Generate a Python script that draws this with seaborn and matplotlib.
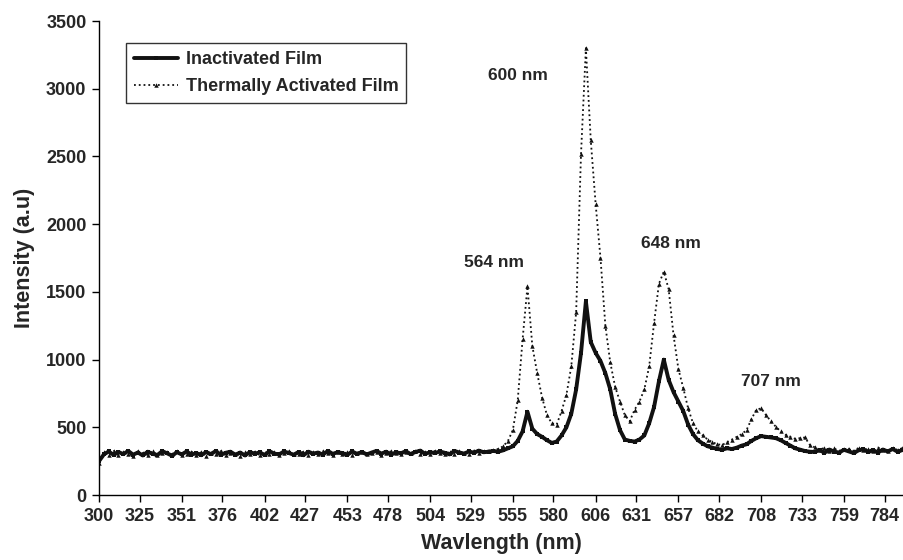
import matplotlib.pyplot as plt
import numpy as np
import pandas as pd
import seaborn as sns

# wavelength grid (3 nm steps, 300 - 795 nm)
wavelength = np.arange(300, 796, 3)

# Inactivated film
inactivated = [
    250, 300, 322, 296, 318, 302, 326, 298, 314, 292,
    320, 304, 296, 324, 308, 290, 316, 300, 322, 298,
    310, 294, 318, 302, 326, 296, 312, 320, 298, 314,
    292, 318, 304, 316, 296, 324, 306, 300, 322, 310,
    298, 318, 294, 320, 306, 314, 298, 326, 304, 316,
    310, 296, 322, 304, 318, 300, 314, 326, 306, 320,
    298, 316, 308, 324, 302, 318, 328, 304, 316, 310,
    322, 312, 300, 326, 314, 306, 322, 312, 328, 316,
    320, 326,
    320, 330, 345, 360, 400, 470, 615, 490, 450, 430,
    405, 385, 395, 440, 500, 600, 780, 1050, 1430, 1130,
    1050, 990, 900, 780, 600, 480, 410, 400, 395, 410,
    440, 530, 650, 840, 1000, 850, 760, 690, 620, 520,
    450, 405, 380, 360, 350, 340, 335, 345, 340, 350,
    365, 375, 400, 420, 435, 430, 425, 420, 405, 385,
    365, 345, 335, 325, 320,
    318, 332, 312, 336, 320, 314, 334, 322, 310, 330,
    338, 318, 330, 314, 336, 322, 340, 320, 332,
]

# Thermally activated film
activated = [
    235, 318, 298, 326, 294, 316, 304, 290, 322, 310,
    296, 326, 292, 312, 318, 300, 324, 292, 306, 320,
    298, 316, 290, 312, 302, 324, 296, 314, 306, 290,
    316, 300, 320, 294, 310, 302, 318, 296, 312, 322,
    300, 306, 320, 296, 316, 302, 322, 308, 298, 318,
    304, 316, 298, 312, 320, 304, 310, 318, 298, 314,
    322, 308, 302, 318, 310, 324, 300, 316, 306, 326,
    310, 302, 320, 306, 322, 312, 304, 328, 314, 322,
    328, 334,
    340, 360, 400, 480, 700, 1150, 1540, 1100, 900, 720,
    590, 530, 520, 620, 740, 950, 1350, 2520, 3300, 2620,
    2150, 1750, 1250, 980, 800, 690, 590, 545, 630, 690,
    780, 950, 1270, 1560, 1650, 1520, 1180, 930, 790, 640,
    530, 470, 440, 410, 390, 375, 370, 390, 410, 430,
    450, 480, 560, 630, 640, 590, 545, 505, 470, 445,
    430, 415, 420, 425, 370,
    352, 336, 348, 328, 344, 324, 338, 342, 326, 348,
    330, 342, 324, 350, 334, 328, 344, 334, 346,
]

tick_labels = ['300', '325', '351', '376', '402', '427', '453', '478', '504', '529',
               '555', '580', '606', '631', '657', '682', '708', '733', '759', '784']

peak_labels = ['564 nm', '600 nm', '648 nm', '707 nm']
peak_text_pos = [(543.5, 1720), (558.3, 3100), (652.6, 1860), (714.3, 842)]

df = pd.DataFrame({'Wavelength': wavelength,
                   'Inactivated Film': inactivated,
                   'Thermally Activated Film': activated})

sns.set_style('white')
plt.rcParams['font.family'] = ['Liberation Sans', 'DejaVu Sans']
plt.rcParams['font.weight'] = 'bold'

fig = plt.figure(figsize=(9.04, 5.6), dpi=100)
ax = fig.add_axes([0.1095, 0.116, 0.8905, 0.8464])

sns.lineplot(data=df, x='Wavelength', y='Inactivated Film', ax=ax, color='#111111',
             linewidth=2.8, marker='s', markersize=2.5, markeredgewidth=0,
             label='Inactivated Film')
sns.lineplot(data=df, x='Wavelength', y='Thermally Activated Film', ax=ax, color='#111111',
             linewidth=1.3, linestyle=':', marker='^', markersize=3.2, markeredgewidth=0,
             label='Thermally Activated Film')

ax.set_xlim(300, 796)
ax.set_ylim(0, 3500)
ax.set_xticks([int(t) for t in tick_labels])
ax.set_xticklabels(tick_labels)
ax.set_yticks(range(0, 3501, 500))

for s in ['top', 'right']:
    ax.spines[s].set_visible(False)
for s in ['left', 'bottom']:
    ax.spines[s].set_color('black')
    ax.spines[s].set_linewidth(1.0)

ax.tick_params(axis='both', which='major', direction='out', length=5, width=1,
               color='black', labelsize=13, pad=4, bottom=True, left=True)
for lab in ax.get_xticklabels() + ax.get_yticklabels():
    lab.set_fontweight('bold')

ax.set_xlabel('Wavlength (nm)', fontsize=15.5, fontweight='bold', labelpad=6)
ax.set_ylabel('Intensity (a.u)', fontsize=15.5, fontweight='bold', labelpad=8)

for txt, (px, py) in zip(peak_labels, peak_text_pos):
    ax.text(px, py, txt, ha='center', va='center', fontsize=12.5, fontweight='bold')

leg = ax.legend(loc='upper left', bbox_to_anchor=(0.0335, 0.9536), borderaxespad=0,
                fontsize=13, frameon=True, fancybox=False, handlelength=2.45,
                handletextpad=0.4, borderpad=0.45, labelspacing=0.55)
leg.get_frame().set_edgecolor('black')
leg.get_frame().set_linewidth(1.0)
for t in leg.get_texts():
    t.set_fontweight('bold')

fig.savefig('out.png', dpi=100)
